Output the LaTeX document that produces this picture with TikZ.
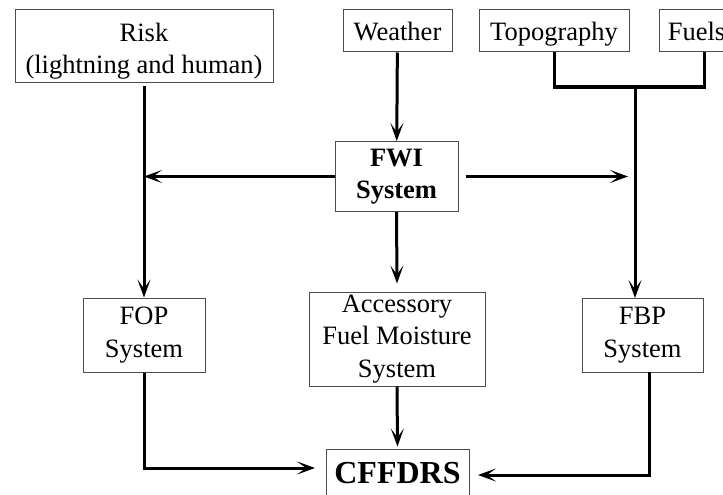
\documentclass[tikz,border=0pt]{standalone}
\usepackage{fontspec}
\setmainfont{Liberation Serif}
\usetikzlibrary{arrows.meta,calc}
\begin{document}
\begin{tikzpicture}[x=1pt,y=-1pt,
  box/.style={draw=black!70, line width=1pt, inner sep=0pt, align=center,
    font=\fontsize{26.5}{32.5}\selectfont},
  onebox/.style={box, text height=19pt, text depth=0pt},
  bigbox/.style={box, font=\fontsize{32}{38}\selectfont\bfseries},
  conn/.style={line width=3pt},
  arr/.style={conn, -{Stealth[length=18pt,width=13pt,inset=9pt]}},
]
\useasboundingbox (0,0) rectangle (723,495);
% top row
\node[box, minimum width=258, minimum height=73.5] (risk) at (144,46.25) {\rule{0pt}{28pt}Risk\\(lightning and human)};
\node[onebox, minimum width=109, minimum height=42] (weather) at (397.5,31) {Weather};
\node[onebox, minimum width=150, minimum height=42] (topo) at (554,31) {Topography};
\node[onebox, minimum width=82, minimum height=42, anchor=west] (fuels) at (659,31) {\hspace*{-8pt}Fuels};
% middle
\node[box, minimum width=123, minimum height=70, font=\fontsize{26.5}{32.5}\selectfont\bfseries] (fwi) at (396.5,176.5) {FWI\\System};
% lower row
\node[box, minimum width=122, minimum height=74] (fop) at (144,335) {FOP\\System};
\node[box, minimum width=176, minimum height=94] (acc) at (397,339) {Accessory\\Fuel Moisture\\System};
\node[box, minimum width=121, minimum height=74] (fbp) at (642.5,335) {FBP\\System};
\node[bigbox, minimum width=143, minimum height=48] (cff) at (397.5,473) {CFFDRS};
% junction coordinates
\coordinate (fuelsb) at (704,52);
\coordinate (fjoin) at (704,87);
\coordinate (tj) at (635,87);
\coordinate (fbpin) at (635,298);
\coordinate (fbpout) at (649,372);
\coordinate (cl) at (315,468);
\coordinate (cr) at (478,475);
% connectors
\draw[arr] (weather) -- (fwi);
\draw[arr] ($(risk.south)+(0,3)$) -- (fop.north);
\draw[arr] (fwi.west) -- (fwi.west -| fop.north);
\draw[arr] ($(fwi.east)+(7,0)$) -- ($(fwi.east -| tj)+(-7,0)$);
\draw[conn] (topo.south) |- (fjoin) -- (fuelsb);
\draw[arr] (tj) -- (fbpin);
\draw[arr] (fwi.south) -- ($(acc.north)+(0,-8)$);
\draw[arr] (acc.south) -- ($(cff.north)+(0,-2)$);
\draw[arr] (fop.south) |- (cl);
\draw[arr] (fbpout) |- (cr);
\end{tikzpicture}
\end{document}
